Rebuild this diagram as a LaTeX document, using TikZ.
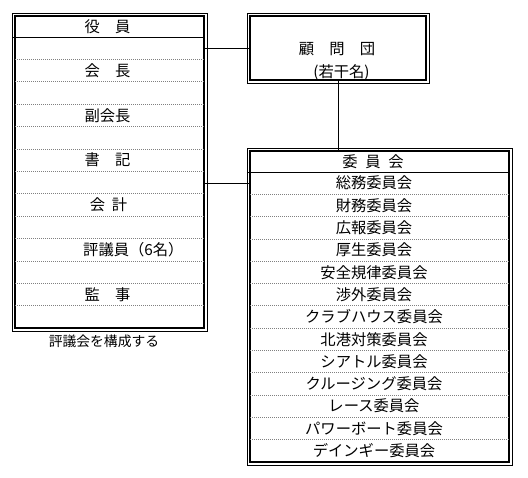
\documentclass[tikz,border=0pt]{standalone}
\usepackage{fontspec}
\setmainfont{Noto Sans CJK JP}
\usetikzlibrary{calc}

\begin{document}
\begin{tikzpicture}[x=1pt,y=1pt,
    frame/.style={draw, line width=1.6pt, inner sep=0pt, outer sep=0pt},
    rowline/.style={gray, line width=0.7pt, dash pattern=on 0.7pt off 1.3pt},
    link/.style={line width=0.8pt},
    txt/.style={inner sep=0pt, font=\fontsize{15.3}{16}\selectfont}]
  \useasboundingbox (0,0) rectangle (528,478);
  % the three framed boxes
  \node[frame, minimum width=189pt, minimum height=312pt] (yakuin) at (109.5,306) {};
  \node[frame, minimum width=176pt, minimum height=64pt] (komon) at (338,430) {};
  \node[frame, minimum width=259pt, minimum height=311pt] (iinkai) at (379.5,171.5) {};
  \foreach \n in {yakuin,komon,iinkai}
    \draw[link] ($(\n.south west)+(-3,-3)$) rectangle ($(\n.north east)+(3,3)$);
  % header lines and row lines
  \draw[link] ($(yakuin.north west)+(-3,-21)$) -- ($(yakuin.north east)+(0,-21)$);
  \draw[link] ($(iinkai.north west)+(-3,-21)$) -- ($(iinkai.north east)+(0,-21)$);
  \foreach \i in {1,...,12} {
    \draw[rowline] ($(yakuin.north west)+(0,{-21-22.4*\i})$) -- ($(yakuin.north east)+(0,{-21-22.4*\i})$);
    \draw[rowline] ($(iinkai.north west)+(0,{-21-22.3*\i})$) -- ($(iinkai.north east)+(0,{-21-22.3*\i})$);
  }
  % officers
  \node[txt] (yakuinhead) at ($(yakuin.north)+(-2,-10.5)$) {役　員};
  \node[txt] (kaicho) at ($(yakuin.north)+(-2,-54.6)$) {会　長};
  \node[txt] (fukukaicho) at ($(yakuin.north)+(-2,-99.4)$) {副会長};
  \node[txt] (shoki) at ($(yakuin.north)+(-2,-144.2)$) {書　記};
  \node[txt] (kaikei) at ($(yakuin.north)+(-1,-189)$) {会\hspace{.45em}計};
  \node[txt, anchor=west] (hyogiin) at ($(yakuin.north west)+(68,-233.8)$) {評議員（6名）};
  \node[txt] (kanji) at ($(yakuin.north)+(-2,-278.6)$) {監　事};
  \node[inner sep=0pt, font=\fontsize{13.8}{14}\selectfont] (hyogikai) at ($(yakuin.south)+(-5.5,-13.7)$) {評議会を構成する};
  % advisors
  \node[txt] (komonname) at ($(komon.north)+(-1,-33)$) {顧　問　団};
  \node[txt] (jakkan) at ($(komon.north)+(3.5,-57)$) {(若干名)};
  % committees
  \node[txt] (iinkaihead) at ($(iinkai.north)+(-6.5,-10.5)$) {委\hspace{.5em}員\hspace{.5em}会};
  \foreach \t [count=\i] in {総務委員会,財務委員会,広報委員会,厚生委員会,安全規律委員会,渉外委員会,クラブハウス委員会,北港対策委員会,シアトル委員会,クルージング委員会,レース委員会,パワーボート委員会,デインギー委員会}
    \node[txt] (c\i) at ($(iinkai.north)+(-5.5,{-21-22.3*(\i-0.5)})$) {\t};
  % connectors
  \draw[link] (komon.west) -- (komon.west -| yakuin.east);
  \draw[link] (c1 -| iinkai.west) -- (c1 -| yakuin.east);
  \draw[link] (komon.south) -- (komon.south |- iinkai.north);
\end{tikzpicture}
\end{document}
